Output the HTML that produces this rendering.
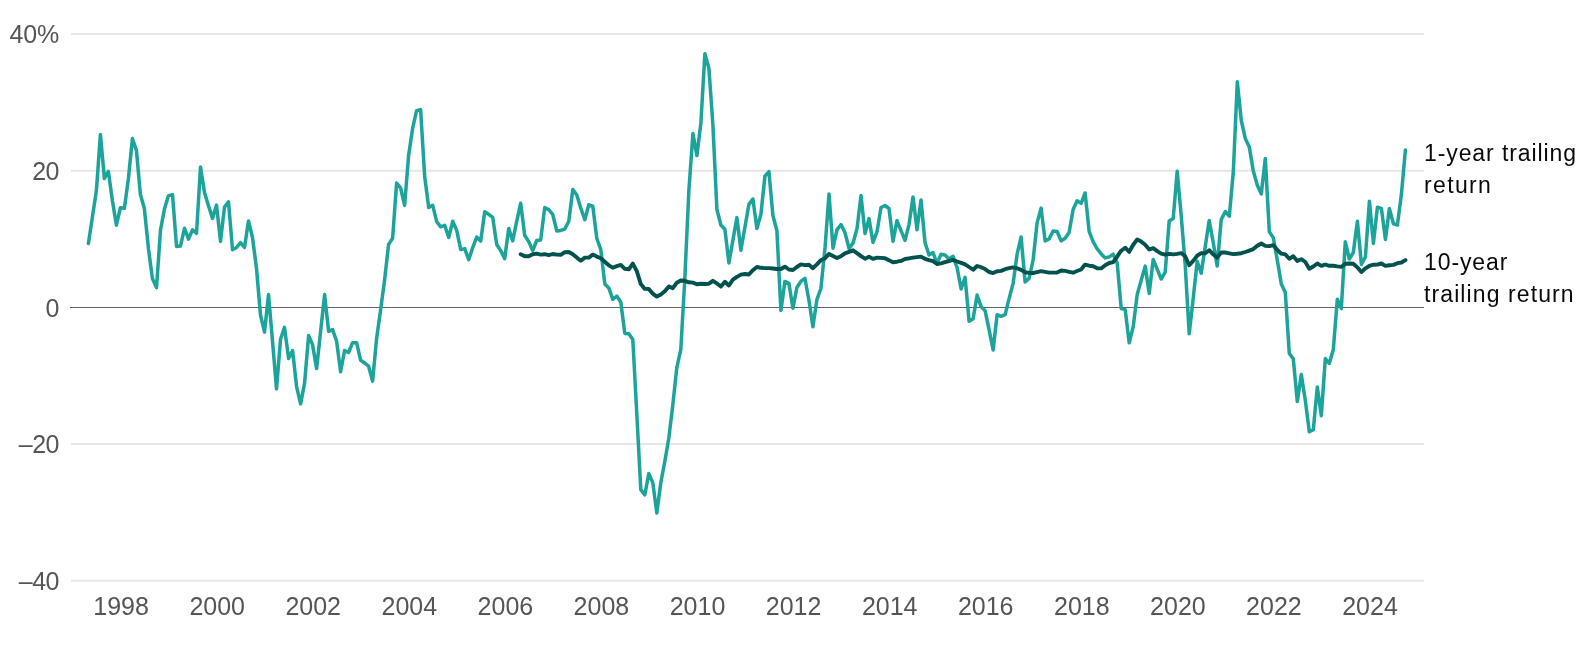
<!DOCTYPE html>
<html><head><meta charset="utf-8"><title>Trailing returns</title>
<style>
html,body{margin:0;padding:0;background:#fff;}
svg{display:block;will-change:transform;}
text{font-family:"Liberation Sans",sans-serif;}
.ax{font-size:25px;fill:#555;letter-spacing:0;}
.lb{font-size:23px;fill:#0a0a0a;letter-spacing:0.9px;}
.ay{letter-spacing:-0.5px;}
</style></head><body>
<svg width="1587" height="646" viewBox="0 0 1587 646">
<rect width="1587" height="646" fill="#fff"/>
<g stroke="#e6e6e6" stroke-width="2" fill="none">
<line x1="71" y1="34" x2="1424" y2="34"/>
<line x1="71" y1="170.7" x2="1424" y2="170.7"/>
<line x1="71" y1="444.1" x2="1424" y2="444.1"/>
<line x1="71" y1="580.8" x2="1424" y2="580.8"/>
</g>
<line x1="70" y1="307.5" x2="1424" y2="307.5" stroke="#636363" stroke-width="1.1"/>
<g class="ax ay" text-anchor="end">
<text x="59" y="43" style="letter-spacing:-0.2px">40%</text>
<text x="59" y="180">20</text>
<text x="59" y="316.6">0</text>
<text x="59" y="453.1">–20</text>
<text x="59" y="589.9">–40</text>
</g>
<g class="ax" text-anchor="middle">
<text x="121.1" y="615">1998</text>
<text x="217.2" y="615">2000</text>
<text x="313.2" y="615">2002</text>
<text x="409.3" y="615">2004</text>
<text x="505.4" y="615">2006</text>
<text x="601.4" y="615">2008</text>
<text x="697.5" y="615">2010</text>
<text x="793.6" y="615">2012</text>
<text x="889.7" y="615">2014</text>
<text x="985.7" y="615">2016</text>
<text x="1081.8" y="615">2018</text>
<text x="1177.9" y="615">2020</text>
<text x="1273.9" y="615">2022</text>
<text x="1370.0" y="615">2024</text>
</g>
<path d="M88.4,243.6 L92.4,217.0 L96.4,190.6 L100.4,134.5 L104.4,178.5 L108.4,171.4 L112.4,200.7 L116.4,225.2 L120.4,207.7 L124.4,208.3 L128.4,178.5 L132.4,138.6 L136.4,150.2 L140.4,194.6 L144.4,208.7 L148.4,248.2 L152.4,278.5 L156.5,287.6 L160.5,230.0 L164.5,208.7 L168.5,195.6 L172.5,194.6 L176.5,246.4 L180.5,245.9 L184.5,228.3 L188.5,239.1 L192.5,229.8 L196.5,233.3 L200.5,167.0 L204.5,192.6 L208.5,205.7 L212.5,218.4 L216.5,205.1 L220.5,241.4 L224.5,207.1 L228.5,201.9 L232.5,249.7 L236.5,247.5 L240.5,242.7 L244.5,247.5 L248.5,220.9 L252.5,237.5 L256.5,268.4 L260.5,315.0 L264.5,332.1 L268.5,294.6 L272.5,341.2 L276.5,388.8 L280.5,339.3 L284.5,327.4 L288.6,358.6 L292.6,350.5 L296.6,386.8 L300.6,403.9 L304.6,382.8 L308.6,335.4 L312.6,344.9 L316.6,368.6 L320.6,331.5 L324.6,294.6 L328.6,331.3 L332.6,329.6 L336.6,341.2 L340.6,371.7 L344.6,350.5 L348.6,352.5 L352.6,342.7 L356.6,342.7 L360.6,360.2 L364.6,363.0 L368.6,366.2 L372.6,381.1 L376.6,338.4 L380.6,310.0 L384.6,280.0 L388.6,244.4 L392.6,238.3 L396.6,183.1 L400.6,187.8 L404.6,205.3 L408.6,155.6 L412.6,128.4 L416.6,110.7 L420.6,109.6 L424.7,176.8 L428.7,207.5 L432.7,205.3 L436.7,221.7 L440.7,226.8 L444.7,225.4 L448.7,237.5 L452.7,221.3 L456.7,230.4 L460.7,249.6 L464.7,248.6 L468.7,259.7 L472.7,247.6 L476.7,237.1 L480.7,241.1 L484.7,211.7 L488.7,214.3 L492.7,217.3 L496.7,244.5 L500.7,250.6 L504.7,258.6 L508.7,228.4 L512.7,240.9 L516.7,221.3 L520.7,203.2 L524.7,235.5 L528.7,241.5 L532.7,250.6 L536.7,240.5 L540.7,239.9 L544.7,207.6 L548.7,209.6 L552.7,214.3 L556.8,231.0 L560.8,230.4 L564.8,229.0 L568.8,221.3 L572.8,189.5 L576.8,195.1 L580.8,208.2 L584.8,219.7 L588.8,204.8 L592.8,206.2 L596.8,238.5 L600.8,249.6 L604.8,283.9 L608.8,287.9 L612.8,299.3 L616.8,296.0 L620.8,302.2 L624.8,333.4 L628.8,333.8 L632.8,339.4 L636.8,414.0 L640.8,489.7 L644.8,494.8 L648.8,473.6 L652.8,482.7 L656.8,512.9 L660.8,482.7 L664.8,461.5 L668.8,438.3 L672.8,405.0 L676.8,367.6 L680.8,349.5 L684.8,279.0 L688.9,190.0 L692.9,133.6 L696.9,155.6 L700.9,122.7 L704.9,53.7 L708.9,68.2 L712.9,125.0 L716.9,209.5 L720.9,225.0 L724.9,229.2 L728.9,262.9 L732.9,240.2 L736.9,217.6 L740.9,250.2 L744.9,227.3 L748.9,204.4 L752.9,199.0 L756.9,228.6 L760.9,214.5 L764.9,176.2 L768.9,171.6 L772.9,215.5 L776.9,230.7 L780.9,310.5 L784.9,281.4 L788.9,283.4 L792.9,308.2 L796.9,287.5 L800.9,281.4 L804.9,278.4 L808.9,300.0 L812.9,326.8 L816.9,299.6 L820.9,288.5 L825.0,248.0 L829.0,194.0 L833.0,248.2 L837.0,229.7 L841.0,224.6 L845.0,232.7 L849.0,248.3 L853.0,243.2 L857.0,228.6 L861.0,195.4 L865.0,233.5 L869.0,218.6 L873.0,242.5 L877.0,231.7 L881.0,207.5 L885.0,205.5 L889.0,208.5 L893.0,241.2 L897.0,220.6 L901.0,230.7 L905.0,240.4 L909.0,224.6 L913.0,197.0 L917.0,229.7 L921.0,200.0 L925.0,242.5 L929.0,255.0 L933.0,252.5 L937.0,263.6 L941.0,254.3 L945.0,255.0 L949.0,259.0 L953.0,256.3 L957.1,267.6 L961.1,289.0 L965.1,277.4 L969.1,321.3 L973.1,318.7 L977.1,295.1 L981.1,306.6 L985.1,310.7 L989.1,329.8 L993.1,350.0 L997.1,314.7 L1001.1,316.3 L1005.1,314.7 L1009.1,298.6 L1013.1,283.4 L1017.1,254.2 L1021.1,237.0 L1025.1,282.0 L1029.1,278.4 L1033.1,260.1 L1037.1,222.6 L1041.1,208.1 L1045.1,240.9 L1049.1,238.9 L1053.1,231.0 L1057.1,231.5 L1061.1,240.9 L1065.1,238.2 L1069.1,232.5 L1073.1,209.5 L1077.1,200.8 L1081.1,203.4 L1085.1,193.0 L1089.2,231.7 L1093.2,241.8 L1097.2,248.8 L1101.2,253.9 L1105.2,257.9 L1109.2,256.9 L1113.2,254.2 L1117.2,263.0 L1121.2,308.6 L1125.2,309.6 L1129.2,342.8 L1133.2,326.7 L1137.2,294.4 L1141.2,280.3 L1145.2,266.1 L1149.2,293.4 L1153.2,259.5 L1157.2,269.2 L1161.2,279.0 L1165.2,272.2 L1169.2,221.0 L1173.2,218.6 L1177.2,171.2 L1181.2,215.5 L1185.2,265.0 L1189.2,333.8 L1193.2,298.5 L1197.2,261.2 L1201.2,273.2 L1205.2,246.8 L1209.2,220.6 L1213.2,242.2 L1217.2,266.1 L1221.2,219.6 L1225.3,211.5 L1229.3,216.1 L1233.3,172.0 L1237.3,81.8 L1241.3,120.5 L1245.3,138.6 L1249.3,147.1 L1253.3,171.0 L1257.3,185.2 L1261.3,194.0 L1265.3,158.4 L1269.3,231.7 L1273.3,237.7 L1277.3,260.1 L1281.3,284.0 L1285.3,292.4 L1289.3,353.5 L1293.3,358.9 L1297.3,401.6 L1301.3,374.4 L1305.3,400.4 L1309.3,431.8 L1313.3,429.8 L1317.3,386.9 L1321.3,415.7 L1325.3,358.6 L1329.3,363.5 L1333.3,349.6 L1337.3,299.3 L1341.3,308.6 L1345.3,241.7 L1349.3,259.0 L1353.3,252.5 L1357.4,221.2 L1361.4,264.3 L1365.4,257.0 L1369.4,201.3 L1373.4,243.4 L1377.4,207.3 L1381.4,208.4 L1385.4,239.4 L1389.4,208.6 L1393.4,223.8 L1397.4,225.0 L1401.4,194.3 L1405.4,150.0" fill="none" stroke="#1ca39a" stroke-width="3.5" stroke-linejoin="round" stroke-linecap="round"/>
<path d="M520.7,254.2 L524.7,256.2 L528.7,256.2 L532.7,254.2 L536.7,253.6 L540.7,254.6 L544.7,254.2 L548.7,255.2 L552.7,254.0 L556.8,254.6 L560.8,254.8 L564.8,252.2 L568.8,252.0 L572.8,254.2 L576.8,257.6 L580.8,260.7 L584.8,257.6 L588.8,257.6 L592.8,254.6 L596.8,256.6 L600.8,258.2 L604.8,261.7 L608.8,265.3 L612.8,267.7 L616.8,266.1 L620.8,264.9 L624.8,268.8 L628.8,269.3 L632.8,263.6 L636.8,271.2 L640.8,284.1 L644.8,288.9 L648.8,288.9 L652.8,293.7 L656.8,296.6 L660.8,294.5 L664.8,291.2 L668.8,286.4 L672.8,288.2 L676.8,282.7 L680.8,280.5 L684.8,280.8 L688.9,282.3 L692.9,282.6 L696.9,284.3 L700.9,283.8 L704.9,284.0 L708.9,283.7 L712.9,280.8 L716.9,283.4 L720.9,286.6 L724.9,281.8 L728.9,285.5 L732.9,279.6 L736.9,276.9 L740.9,274.6 L744.9,274.0 L748.9,274.5 L752.9,270.2 L756.9,267.0 L760.9,267.8 L764.9,268.1 L768.9,268.1 L772.9,268.5 L776.9,269.0 L780.9,269.0 L784.9,266.7 L788.9,269.5 L792.9,270.0 L796.9,267.0 L800.9,264.4 L804.9,265.1 L808.9,264.8 L812.9,268.2 L816.9,264.4 L820.9,260.2 L825.0,258.2 L829.0,253.9 L833.0,256.0 L837.0,258.1 L841.0,256.2 L845.0,253.3 L849.0,251.8 L853.0,250.3 L857.0,253.1 L861.0,256.1 L865.0,258.7 L869.0,256.7 L873.0,258.9 L877.0,257.6 L881.0,257.9 L885.0,258.3 L889.0,260.2 L893.0,262.2 L897.0,261.7 L901.0,260.9 L905.0,259.0 L909.0,258.3 L913.0,257.6 L917.0,257.1 L921.0,256.6 L925.0,258.8 L929.0,260.1 L933.0,261.2 L937.0,264.0 L941.0,263.3 L945.0,262.1 L949.0,261.0 L953.0,259.9 L957.1,261.5 L961.1,262.9 L965.1,264.3 L969.1,267.0 L973.1,269.7 L977.1,266.0 L981.1,267.2 L985.1,269.1 L989.1,272.0 L993.1,273.1 L997.1,271.2 L1001.1,270.9 L1005.1,269.2 L1009.1,268.2 L1013.1,267.4 L1017.1,268.2 L1021.1,269.9 L1025.1,272.3 L1029.1,272.9 L1033.1,273.0 L1037.1,272.1 L1041.1,271.2 L1045.1,271.9 L1049.1,272.6 L1053.1,272.6 L1057.1,272.5 L1061.1,270.5 L1065.1,270.9 L1069.1,271.8 L1073.1,272.7 L1077.1,271.0 L1081.1,269.5 L1085.1,264.6 L1089.2,265.7 L1093.2,266.3 L1097.2,268.2 L1101.2,268.4 L1105.2,265.2 L1109.2,263.0 L1113.2,262.1 L1117.2,256.5 L1121.2,250.7 L1125.2,247.7 L1129.2,251.9 L1133.2,244.7 L1137.2,239.5 L1141.2,241.6 L1145.2,244.7 L1149.2,249.5 L1153.2,248.1 L1157.2,251.1 L1161.2,253.6 L1165.2,254.7 L1169.2,253.9 L1173.2,254.4 L1177.2,253.9 L1181.2,253.1 L1185.2,256.3 L1189.2,265.3 L1193.2,260.9 L1197.2,255.7 L1201.2,253.1 L1205.2,253.3 L1209.2,250.2 L1213.2,254.3 L1217.2,257.7 L1221.2,252.4 L1225.3,252.5 L1229.3,253.3 L1233.3,254.1 L1237.3,253.7 L1241.3,253.2 L1245.3,252.0 L1249.3,250.6 L1253.3,249.1 L1257.3,245.7 L1261.3,243.5 L1265.3,245.9 L1269.3,246.1 L1273.3,245.1 L1277.3,250.0 L1281.3,253.7 L1285.3,254.4 L1289.3,258.8 L1293.3,256.2 L1297.3,260.9 L1301.3,259.2 L1305.3,262.0 L1309.3,268.8 L1313.3,266.5 L1317.3,263.5 L1321.3,265.9 L1325.3,264.5 L1329.3,265.8 L1333.3,265.8 L1337.3,266.4 L1341.3,266.9 L1345.3,263.7 L1349.3,263.5 L1353.3,263.8 L1357.4,267.4 L1361.4,272.0 L1365.4,268.4 L1369.4,265.8 L1373.4,264.7 L1377.4,264.6 L1381.4,263.5 L1385.4,265.9 L1389.4,265.3 L1393.4,264.9 L1397.4,263.2 L1401.4,262.5 L1405.4,260.1" fill="none" stroke="#00524e" stroke-width="3.9" stroke-linejoin="round" stroke-linecap="round"/>
<g class="lb">
<text x="1424" y="161">1-year trailing</text>
<text x="1424" y="193" style="letter-spacing:1.35px">return</text>
<text x="1424" y="270">10-year</text>
<text x="1424" y="302" style="letter-spacing:1.1px">trailing return</text>
</g>
</svg>
</body></html>
